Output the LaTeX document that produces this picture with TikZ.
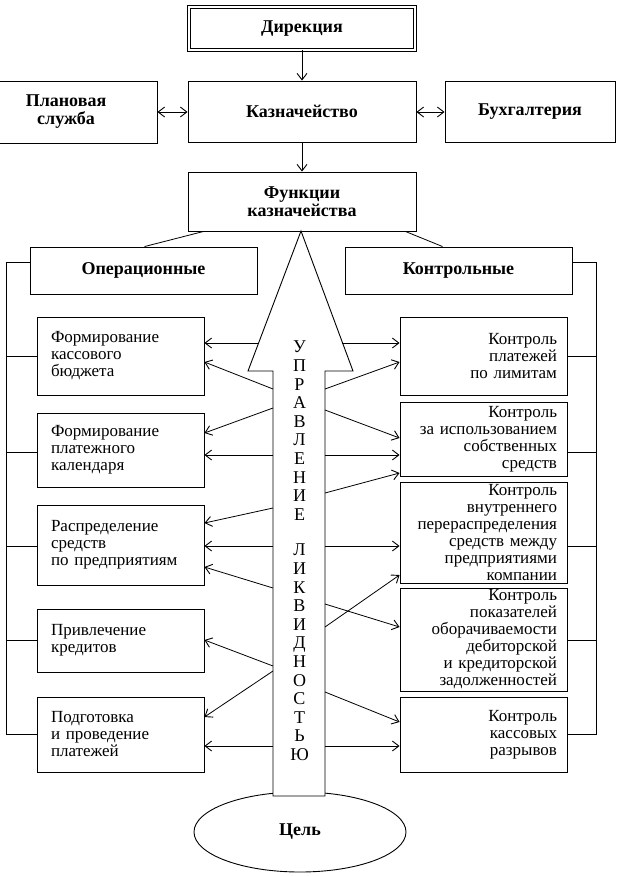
\documentclass[tikz,border=0pt]{standalone}
\usepackage{fontspec}
\setmainfont{Liberation Serif}
\usetikzlibrary{arrows.meta,shapes.geometric,calc}
\begin{document}
\begin{tikzpicture}[x=1pt,y=-1pt,
  box/.style={draw, line width=0.9pt, inner ysep=0pt, font=\fontsize{17}{17}\selectfont},
  title/.style={box, font=\fontsize{18}{18}\selectfont\bfseries, align=center, inner xsep=0pt},
  lbox/.style={box, align=left, inner xsep=14pt, text width=139pt, minimum width=167pt},
  rbox/.style={box, align=right, inner xsep=10pt, text width=147pt, minimum width=167pt},
  conn/.style={line width=0.8pt},
  tip/.style={},
  arr/.style={conn, -{Straight Barb[length=6.5pt,width=10pt,line width=0.9pt]}},
  darr/.style={conn, {Straight Barb[length=6.5pt,width=10pt,line width=0.9pt]}-{Straight Barb[length=6.5pt,width=10pt,line width=0.9pt]}},
  letters/.style={font=\fontsize{18}{18.6}\selectfont, align=center, inner sep=0pt, anchor=north}
]
\useasboundingbox (0,0) rectangle (617,876);
\fill[white] (0,0) rectangle (617,876);

% top boxes
\node[title, double, double distance=2pt, line width=0.7pt, minimum width=226pt, minimum height=43pt] (dir) at (302,28.5) {Дирекция};
\node[title, minimum width=228pt, minimum height=61pt] (kaz) at (302,111.5) {Казначейство};
\node[title, minimum width=182pt, minimum height=62pt] (plan) at (66,112) {Плановая\\служба};
\node[title, minimum width=170pt, minimum height=61pt] (buh) at (530,111.5) {Бухгалтерия};
\node[title, minimum width=228pt, minimum height=59pt] (func) at (302,201.5) {Функции\\казначейства};
\node[title, minimum width=227pt, minimum height=47pt] (oper) at (143.5,270.5) {Операционные};
\node[title, minimum width=227pt, minimum height=47pt] (kontr) at (458.5,270.5) {Контрольные};

\draw[arr] (dir) -- (kaz);
\draw[arr] (kaz) -- (func);
\draw[darr] (plan.east |- 0,112) -- (kaz.west |- 0,112);
\draw[darr] (kaz.east |- 0,112) -- (buh.west |- 0,112);
\draw[conn] ($(func.south west)+(16,0)$) -- ($(oper.north west)+(115,0)$);
\draw[conn] ($(func.south east)+(-11,0)$) -- ($(kontr.north west)+(98,0)$);

% left boxes
\node[lbox, minimum height=78pt] (lb1) at (120.5,356) {Формирование\\кассового\\бюджета};
\node[lbox, minimum height=74pt] (lb2) at (120.5,450) {Формирование\\платежного\\календаря};
\node[lbox, minimum height=80pt] (lb3) at (120.5,545) {Распределение\\средств\\по предприятиям};
\node[lbox, minimum height=63pt] (lb4) at (120.5,640.5) {Привлечение\\кредитов};
\node[lbox, minimum height=75pt] (lb5) at (120.5,734.5) {Подготовка\\и проведение\\платежей};

% right boxes
\node[rbox, minimum height=78pt] (rb1) at (483.5,356) {Контроль\\платежей\\по лимитам};
\node[rbox, minimum height=74pt] (rb2) at (483.5,439) {Контроль\\за использованием\\собственных\\средств};
\node[rbox, minimum height=101pt] (rb3) at (483.5,532.5) {Контроль\\внутреннего\\перераспределения\\средств между\\предприятиями\\компании};
\node[rbox, minimum height=103pt] (rb4) at (483.5,639.5) {Контроль\\показателей\\оборачиваемости\\дебиторской\\и кредиторской\\задолженностей};
\node[rbox, minimum height=75pt] (rb5) at (483.5,734.5) {Контроль\\кассовых\\разрывов};

% side brackets
\draw[conn] (oper.west |- 0,262) -- (6,262) -- (6,734) -- (lb5.west |- 0,734);
\draw[conn] (lb1.west |- 0,356) -- (6,356);
\draw[conn] (lb2.west |- 0,452) -- (6,452);
\draw[conn] (lb3.west |- 0,546) -- (6,546);
\draw[conn] (lb4.west |- 0,640) -- (6,640);
\draw[conn] (kontr.east |- 0,262) -- (596,262) -- (596,734) -- (rb5.east |- 0,734);
\draw[conn] (rb1.east |- 0,356) -- (596,356);
\draw[conn] (rb2.east |- 0,452) -- (596,452);
\draw[conn] (rb3.east |- 0,546) -- (596,546);
\draw[conn] (rb4.east |- 0,640) -- (596,640);

% goal ellipse
\node[ellipse, draw, line width=0.9pt, minimum width=212pt, minimum height=80pt, inner sep=0pt, font=\fontsize{18}{18}\selectfont\bfseries] (goal) at (300,832) {\raisebox{-4pt}{Цель}};

% big arrow
\draw[line width=0.9pt, fill=white] (301,231) -- (353,371) -- (325,371) -- (325,796) -- (273,796) -- (273,371) -- (248,371) -- cycle;
\node[letters] (w1) at (299.5,341) {У\\П\\Р\\А\\В\\Л\\Е\\Н\\И\\Е};
\node[letters] (w2) at (299.5,544) {Л\\И\\К\\В\\И\\Д\\Н\\О\\С\\Т\\Ь\\Ю};

% start points on the big arrow
\coordinate (sL1) at (258,343);
\coordinate (sR1) at (342,343);
\foreach \n/\y in {2/389,3/408,4/455,5/508,6/546,7/588,8/666,9/671,10/746}
  \coordinate (sL\n) at (273,\y);
\foreach \n/\y in {2/389,3/410,4/455,5/493,6/546,7/604,8/627,9/692,10/746}
  \coordinate (sR\n) at (325,\y);

% left arrows
\draw[arr] (sL1) -- (lb1.east |- sL1);
\draw[arr] (sL2) -- (lb1.east |- 0,362);
\draw[arr] (sL3) -- (lb2.east |- 0,433);
\draw[arr] (sL4) -- (lb2.east |- sL4);
\draw[arr] (sL5) -- (lb3.east |- 0,523);
\draw[arr] (sL6) -- (lb3.east |- sL6);
\draw[arr] (sL7) -- (lb3.east |- 0,567);
\draw[arr] (sL8) -- (lb4.east |- 0,640);
\draw[arr] (sL9) -- (lb5.east |- 0,717);
\draw[arr] (sL10) -- (lb5.east |- sL10);

% right arrows
\draw[arr] (sR1) -- (rb1.west |- sR1);
\draw[arr] (sR2) -- (rb1.west |- 0,362);
\draw[arr] (sR3) -- (rb2.west |- 0,438);
\draw[arr] (sR4) -- (rb2.west |- sR4);
\draw[arr] (sR5) -- (rb2.west |- 0,473);
\draw[arr] (sR6) -- (rb3.west |- sR6);
\draw[arr] (sR7) -- (rb4.west |- 0,627);
\draw[arr] (sR8) -- (rb3.west |- 0,575);
\draw[arr] (sR9) -- (rb5.west |- 0,722);
\draw[arr] (sR10) -- (rb5.west |- sR10);
\end{tikzpicture}
\end{document}
